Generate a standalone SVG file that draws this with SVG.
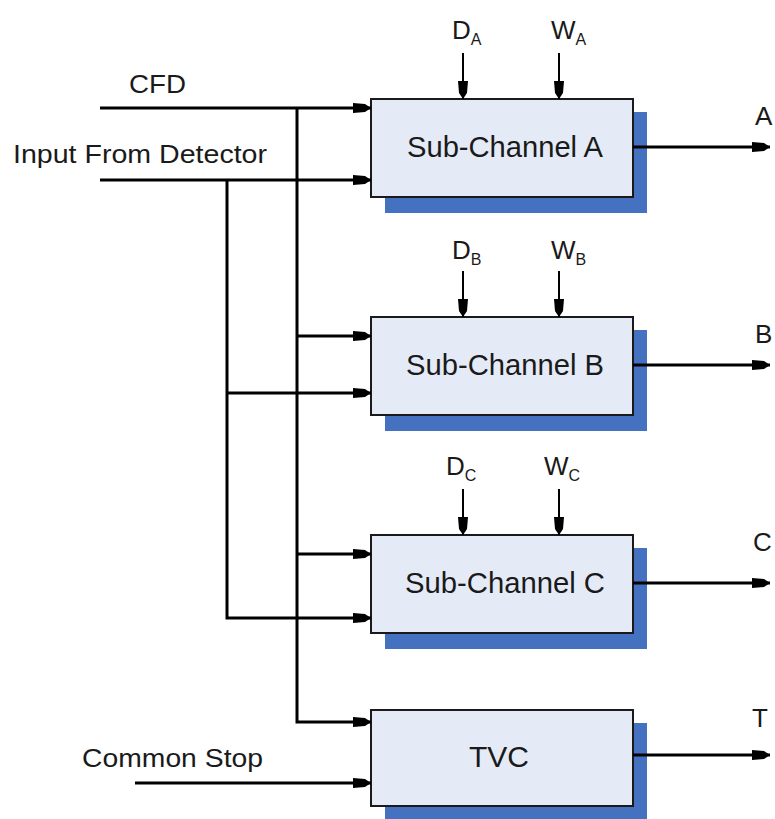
<svg xmlns="http://www.w3.org/2000/svg" width="775" height="819" viewBox="0 0 775 819">
<style>
text{font-family:"Liberation Sans",Arial,sans-serif;fill:#1a1a1a}
.lbl{font-size:26px}
.box{fill:#e4ebf6;stroke:#1a1a1a;stroke-width:2}
.sh{fill:#4472c0}
.bt{font-size:30px;text-anchor:middle}
.sub{font-size:16px}
.ln{fill:none;stroke:#000;stroke-width:3}
.ln2{fill:none;stroke:#000;stroke-width:2}
</style>
<defs>
<marker id="ah" markerUnits="userSpaceOnUse" markerWidth="20" markerHeight="14" refX="18" refY="7" orient="auto">
<path d="M0,2 L12,3 L18,7 L12,11 L0,12 Z" fill="#000"/>
</marker>
</defs>
<g id="subA">
<rect class="sh" x="385" y="112" width="262" height="101"/>
<rect class="box" x="371" y="99" width="262" height="98"/>
<text class="bt" x="505" y="157" textLength="196" lengthAdjust="spacingAndGlyphs">Sub-Channel A</text>
</g>
<g id="subB">
<rect class="sh" x="385" y="330" width="262" height="101"/>
<rect class="box" x="371" y="317" width="262" height="98"/>
<text class="bt" x="505" y="375" textLength="198" lengthAdjust="spacingAndGlyphs">Sub-Channel B</text>
</g>
<g id="subC">
<rect class="sh" x="385" y="548" width="262" height="101"/>
<rect class="box" x="371" y="535" width="262" height="98"/>
<text class="bt" x="505" y="593" textLength="200" lengthAdjust="spacingAndGlyphs">Sub-Channel C</text>
</g>
<g id="tvc">
<rect class="sh" x="385" y="723" width="262" height="96"/>
<rect class="box" x="371" y="710" width="262" height="96"/>
<text class="bt" x="499" y="767" textLength="60" lengthAdjust="spacingAndGlyphs">TVC</text>
</g>
<g id="connectors">
<path class="ln" d="M100,108 H371" marker-end="url(#ah)"/>
<path class="ln" d="M100,180 H371" marker-end="url(#ah)"/>
<path class="ln" d="M297,108 V722 H371" marker-end="url(#ah)"/>
<path class="ln" d="M227,180 V618 H371" marker-end="url(#ah)"/>
<path class="ln" d="M297,336 H371" marker-end="url(#ah)"/>
<path class="ln" d="M227,393 H371" marker-end="url(#ah)"/>
<path class="ln" d="M297,554 H371" marker-end="url(#ah)"/>
<path class="ln" d="M135,783 H371" marker-end="url(#ah)"/>
<path class="ln" d="M633,147 H770" marker-end="url(#ah)"/>
<path class="ln" d="M633,365 H770" marker-end="url(#ah)"/>
<path class="ln" d="M633,583 H770" marker-end="url(#ah)"/>
<path class="ln" d="M633,755 H770" marker-end="url(#ah)"/>
<path class="ln2" d="M463,53 V99" marker-end="url(#ah)"/>
<path class="ln2" d="M559,53 V99" marker-end="url(#ah)"/>
<path class="ln2" d="M463,271 V317" marker-end="url(#ah)"/>
<path class="ln2" d="M559,271 V317" marker-end="url(#ah)"/>
<path class="ln2" d="M463,489 V535" marker-end="url(#ah)"/>
<path class="ln2" d="M559,489 V535" marker-end="url(#ah)"/>
</g>
<g id="labels">
<text class="lbl" x="129" y="93" textLength="57" lengthAdjust="spacingAndGlyphs">CFD</text>
<text class="lbl" x="13" y="163" textLength="254" lengthAdjust="spacingAndGlyphs">Input From Detector</text>
<text class="lbl" x="82" y="767" textLength="181" lengthAdjust="spacingAndGlyphs">Common Stop</text>
<text class="lbl" x="755" y="125">A</text>
<text class="lbl" x="755" y="343">B</text>
<text class="lbl" x="753" y="551">C</text>
<text class="lbl" x="752" y="727">T</text>
<text class="lbl" x="452" y="39">D<tspan class="sub" dy="6">A</tspan></text>
<text class="lbl" x="551" y="39">W<tspan class="sub" dy="6">A</tspan></text>
<text class="lbl" x="452" y="259">D<tspan class="sub" dy="6">B</tspan></text>
<text class="lbl" x="551" y="259">W<tspan class="sub" dy="6">B</tspan></text>
<text class="lbl" x="446" y="475">D<tspan class="sub" dy="6">C</tspan></text>
<text class="lbl" x="544" y="475">W<tspan class="sub" dy="6">C</tspan></text>
</g>
</svg>
